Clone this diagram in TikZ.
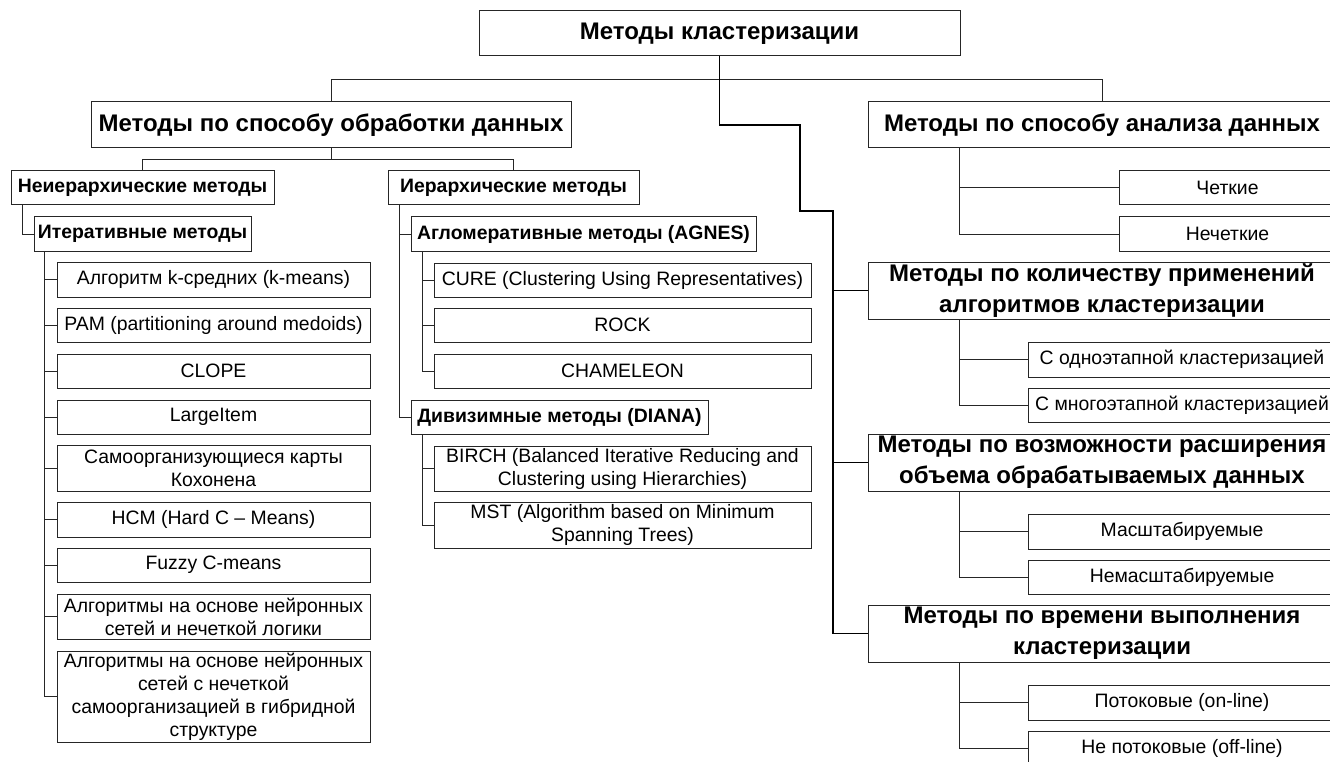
\documentclass[tikz,border=0pt]{standalone}
\usepackage{fontspec}
\setmainfont{Liberation Sans}
\begin{document}
\begin{tikzpicture}[x=1pt,y=-1pt,
  box/.style={draw=black!85, line width=1pt, inner sep=0pt, align=center, fill=white},
  lf/.style={box, font=\fontsize{19.4}{23}\selectfont},
  bthree/.style={box, font=\bfseries\fontsize{19.4}{23}\selectfont},
  btwo/.style={box, font=\bfseries\fontsize{24}{31}\selectfont},
  conn/.style={line width=1pt, draw=black!85},
  mainconn/.style={line width=1.9pt, draw=black},
]
\useasboundingbox (0,0) rectangle (1330,762);
\clip (0,0) rectangle (1330,762);

% level 1 and 2
\node[btwo, minimum width=481pt, minimum height=45pt] (root) at (719.5,33.5) {Методы кластеризации};
\node[btwo, minimum width=480pt, minimum height=46pt] (obr) at (331,125) {Методы по способу обработки данных};
\node[btwo, minimum width=468pt, minimum height=46pt] (anal) at (1102,125) {Методы по способу анализа данных};
\node[btwo, minimum width=468pt, minimum height=57pt] (kol) at (1102,290.5) {Методы по количеству применений\\алгоритмов кластеризации};
\node[btwo, minimum width=468pt, minimum height=57pt] (vozm) at (1102,462.5) {Методы по возможности расширения\\объема обрабатываемых данных};
\node[btwo, minimum width=468pt, minimum height=57pt] (vrem) at (1102,633.5) {Методы по времени выполнения\\кластеризации};

% level 3
\node[bthree, minimum width=263pt, minimum height=34pt] (neier) at (142.5,188) {Неиерархические методы};
\node[bthree, minimum width=251pt, minimum height=34pt] (ier) at (513.5,188) {Иерархические методы};
\node[bthree, minimum width=217pt, minimum height=34pt] (iter) at (142.5,234) {Итеративные методы};
\node[bthree, minimum width=345pt, minimum height=34pt] (agl) at (583.5,234) {Агломеративные методы (AGNES)};
\node[bthree, minimum width=297pt, minimum height=34pt] (div) at (559.5,417) {Дивизимные методы (DIANA)};

% left leaves
\node[lf, minimum width=313pt, minimum height=35pt] (kmeans) at (213.5,279.5) {Алгоритм k-средних (k-means)};
\node[lf, minimum width=313pt, minimum height=34pt] (pam) at (213.5,325) {PAM (partitioning around medoids)};
\node[lf, minimum width=313pt, minimum height=34pt] (clope) at (213.5,371) {CLOPE};
\node[lf, minimum width=313pt, minimum height=34pt] (large) at (213.5,417) {LargeItem};
\node[lf, minimum width=313pt, minimum height=46pt] (som) at (213.5,468) {Самоорганизующиеся карты\\Кохонена};
\node[lf, minimum width=313pt, minimum height=35pt] (hcm) at (213.5,519.5) {HCM (Hard C – Means)};
\node[lf, minimum width=313pt, minimum height=34pt] (fuzzy) at (213.5,565) {Fuzzy C-means};
\node[lf, minimum width=313pt, minimum height=45pt] (nnone) at (213.5,616.5) {Алгоритмы на основе нейронных\\сетей и нечеткой логики};
\node[lf, minimum width=313pt, minimum height=91pt] (nntwo) at (213.5,696.5) {Алгоритмы на основе нейронных\\сетей с нечеткой\\самоорганизацией в гибридной\\структуре};

% hierarchical leaves
\node[lf, minimum width=377pt, minimum height=34pt] (cure) at (622.5,280) {CURE (Clustering Using Representatives)};
\node[lf, minimum width=377pt, minimum height=34pt] (rock) at (622.5,325) {ROCK};
\node[lf, minimum width=377pt, minimum height=34pt] (cham) at (622.5,371) {CHAMELEON};
\node[lf, minimum width=377pt, minimum height=45pt] (birch) at (622.5,468.5) {BIRCH (Balanced Iterative Reducing and\\Clustering using Hierarchies)};
\node[lf, minimum width=377pt, minimum height=46pt] (mst) at (622.5,525) {MST (Algorithm based on Minimum\\Spanning Trees)};

% right leaves
\node[lf, minimum width=217pt, minimum height=34pt] (chet) at (1227.5,188) {Четкие};
\node[lf, minimum width=217pt, minimum height=34pt] (nechet) at (1227.5,234) {Нечеткие};
\node[lf, minimum width=308pt, minimum height=35pt] (odno) at (1182,359.5) {С одноэтапной кластеризацией};
\node[lf, minimum width=308pt, minimum height=34pt] (mnogo) at (1182,405) {С многоэтапной кластеризацией};
\node[lf, minimum width=308pt, minimum height=35pt] (masht) at (1182,531.5) {Масштабируемые};
\node[lf, minimum width=308pt, minimum height=34pt] (nemasht) at (1182,577) {Немасштабируемые};
\node[lf, minimum width=308pt, minimum height=35pt] (potok) at (1182,702.5) {Потоковые (on-line)};
\node[lf, minimum width=308pt, minimum height=35pt] (nepotok) at (1182,748.5) {Не потоковые (off-line)};

% connectors from root
\coordinate (ja) at (800,125);
\coordinate (jb) at (833,211);
\draw[conn] (root.south) -- ++(0,23) -| (obr.north);
\draw[conn] (root.south) -- ++(0,23) -| (anal.north);
\draw[mainconn] (root.south) |- (ja) |- (jb) |- (kol.west);
\draw[mainconn] (jb) |- (vozm.west);
\draw[mainconn] (jb) |- (vrem.west);

% processing branch
\draw[conn] (obr.south) -- ++(0,11) -| (neier.north);
\draw[conn] (obr.south) -- ++(0,11) -| (ier.north);
\draw[conn] ([xshift=12pt]neier.south west) |- (iter.west);
\foreach \n in {kmeans,pam,clope,large,som,hcm,fuzzy,nnone,nntwo}
  \draw[conn] ([xshift=11pt]iter.south west) |- (\n.west);
\draw[conn] ([xshift=12pt]ier.south west) |- (agl.west);
\draw[conn] ([xshift=12pt]ier.south west) |- (div.west);
\foreach \n in {cure,rock,cham}
  \draw[conn] ([xshift=12pt]agl.south west) |- (\n.west);
\foreach \n in {birch,mst}
  \draw[conn] ([xshift=12pt]div.south west) |- (\n.west);

% right branches
\foreach \n in {chet,nechet}
  \draw[conn] ([xshift=92pt]anal.south west) |- (\n.west);
\foreach \n in {odno,mnogo}
  \draw[conn] ([xshift=92pt]kol.south west) |- (\n.west);
\foreach \n in {masht,nemasht}
  \draw[conn] ([xshift=92pt]vozm.south west) |- (\n.west);
\foreach \n in {potok,nepotok}
  \draw[conn] ([xshift=92pt]vrem.south west) |- (\n.west);
\end{tikzpicture}
\end{document}
